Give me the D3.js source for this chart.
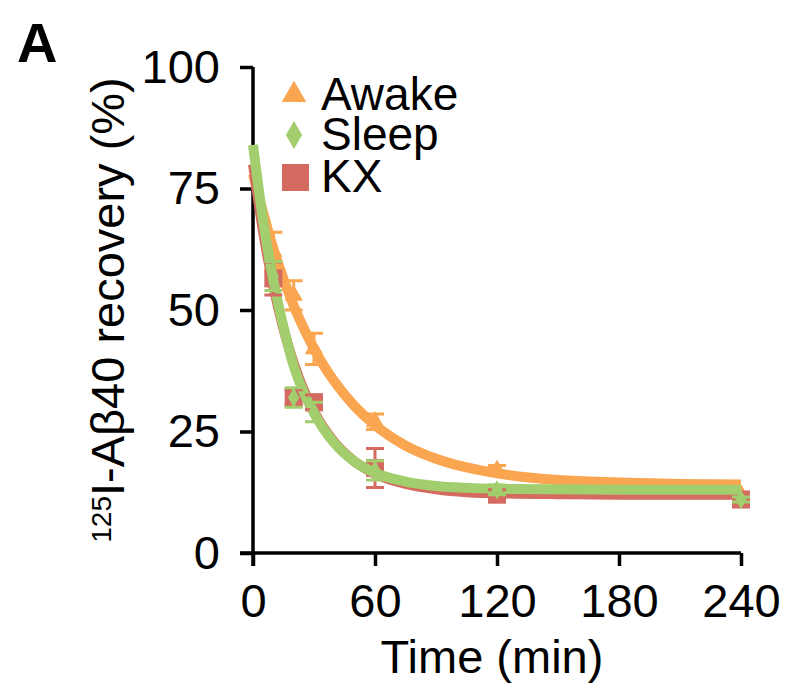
<!DOCTYPE html>
<html>
<head>
<meta charset="utf-8">
<script src="https://cdn.jsdelivr.net/npm/d3@7"></script>
<style>
  body { margin: 0; background: #fff; }
  text { font-family: "Liberation Sans", Arial, sans-serif; }
</style>
</head>
<body>
<svg id="chart" width="792" height="684"></svg>
<script>
// Data
var timePoints = [10, 20, 30, 60, 120, 240];
var awakeMean = [62, 53, 42, 27, 17, 12];
var awakeErr = [4, 3, 3.2, 1.6, 1, 0.5];
var sleepMean = [57, 32, 29, 17, 13, 11];
var sleepErr = [3, 2, 2, 2, 1, 0.5];
var kxMean = [56.5, 32, 31, 17.5, 12, 11];
var kxErr = [3.4, 1.6, 1.5, 4, 1, 0.5];

// fitted curves
var fitTime = [0, 5, 10, 15, 20, 25, 30, 40, 50, 60, 75, 90, 105, 120, 150, 180, 210, 240];
var awakeFit = [78, 70, 62.6, 56.4, 50.9, 46.2, 42, 35.3, 30.2, 26.3, 22.1, 19.4, 17.6, 16.4, 15, 14.5, 14.2, 14.1];
var sleepFit = [84, 68.3, 56.1, 46.5, 38.5, 33, 28.8, 22.6, 18.8, 16.5, 14.7, 13.8, 13.4, 13.2, 13.1, 13, 13, 13];
var kxFit = [80, 66, 54.9, 46.1, 39.1, 33.5, 29.1, 22.8, 18.8, 16.3, 14.2, 13.1, 12.5, 12.3, 12.1, 12, 12, 12];

var xTicks = [0, 60, 120, 180, 240];
var yTicks = [0, 25, 50, 75, 100];

var orange = "#faa550",
  green = "#a2ce6e",
  red = "#d46a60";

var svg = d3.select("#chart");

var x = d3.scaleLinear().domain([0, 240]).range([253, 741]);
var y = d3.scaleLinear().domain([0, 100]).range([553, 67]);

// Panel letter
svg.append("text")
  .attr("x", 17)
  .attr("y", 62)
  .attr("font-size", 56)
  .attr("font-weight", "bold")
  .text("A");

// Axes
var xAxis = svg.append("g")
  .attr("transform", "translate(0,553)")
  .call(d3.axisBottom(x).tickValues(xTicks).tickSize(13).tickSizeOuter(0).tickPadding(18));
var yAxis = svg.append("g")
  .attr("transform", "translate(253,0)")
  .call(d3.axisLeft(y).tickValues(yTicks).tickSize(13).tickSizeOuter(0).tickPadding(20));

[xAxis, yAxis].forEach(function (g) {
  g.select(".domain").attr("stroke", "#000").attr("stroke-width", 3.5);
  g.selectAll(".tick line").attr("stroke", "#000").attr("stroke-width", 3.5);
  g.selectAll(".tick text")
    .attr("font-size", 47)
    .attr("font-family", "Liberation Sans, Arial, sans-serif")
    .attr("fill", "#000");
});
// x-axis line reaches back under the y ticks
xAxis.select(".domain").attr("d", "M240,0H741");
yAxis.select(".domain").attr("d", "M0,67V566");

// Axis titles
svg.append("text")
  .attr("x", 492)
  .attr("y", 673)
  .attr("text-anchor", "middle")
  .attr("font-size", 47)
  .text("Time (min)");

var ylab = svg.append("text")
  .attr("transform", "translate(124,310) rotate(-90)")
  .attr("text-anchor", "middle")
  .attr("font-size", 47);
ylab.append("tspan").attr("font-size", 28).attr("dy", -13).text("125");
ylab.append("tspan").attr("dy", 13).text("I-A\u03b240 recovery (%)");

// Fit lines
var line = d3.line()
  .curve(d3.curveMonotoneX)
  .x(function (d) { return x(d[0]); })
  .y(function (d) { return y(d[1]); });

function fitPairs(vals) {
  return fitTime.map(function (t, i) { return [t, vals[i]]; });
}

function errorBars(means, errs, color) {
  var g = svg.append("g").attr("stroke", color).attr("stroke-width", 3).attr("fill", "none");
  timePoints.forEach(function (t, i) {
    var cx = x(t), lo = y(means[i] - errs[i]), hi = y(means[i] + errs[i]);
    g.append("path").attr("d",
      "M" + cx + "," + lo + "V" + hi +
      "M" + (cx - 9) + "," + hi + "H" + (cx + 9) +
      "M" + (cx - 9) + "," + lo + "H" + (cx + 9));
  });
}

// Awake markers + curve
errorBars(awakeMean, awakeErr, orange);
svg.append("g").selectAll("path")
  .data(timePoints)
  .enter()
  .append("path")
  .attr("d", d3.symbol().type(d3.symbolTriangle).size(150))
  .attr("transform", function (d, i) { return "translate(" + x(d) + "," + y(awakeMean[i]) + ")"; })
  .attr("fill", orange);
svg.append("path")
  .attr("d", line(fitPairs(awakeFit)))
  .attr("fill", "none")
  .attr("stroke", orange)
  .attr("stroke-width", 10);

// KX markers + curve
svg.append("g").selectAll("rect")
  .data(timePoints)
  .enter()
  .append("rect")
  .attr("x", function (d) { return x(d) - 9; })
  .attr("y", function (d, i) { return y(kxMean[i]) - 9; })
  .attr("width", 18)
  .attr("height", 18)
  .attr("fill", red);
svg.append("path")
  .attr("d", line(fitPairs(kxFit)))
  .attr("fill", "none")
  .attr("stroke", red)
  .attr("stroke-width", 10);

// Sleep curve
svg.append("path")
  .attr("d", line(fitPairs(sleepFit)))
  .attr("fill", "none")
  .attr("stroke", green)
  .attr("stroke-width", 10);

errorBars(kxMean, kxErr, red);
errorBars(sleepMean, sleepErr, green);
svg.append("g").selectAll("path")
  .data(timePoints)
  .enter()
  .append("path")
  .attr("d", d3.symbol().type(d3.symbolDiamond).size(110))
  .attr("transform", function (d, i) { return "translate(" + x(d) + "," + y(sleepMean[i]) + ")"; })
  .attr("fill", green);

// Legend
var legend = [
  { name: "Awake", color: orange, shape: "triangle", y: 95 },
  { name: "Sleep", color: green, shape: "diamond", y: 135 },
  { name: "KX", color: red, shape: "square", y: 177 }
];
var lg = svg.append("g");
legend.forEach(function (d) {
  if (d.shape === "square") {
    lg.append("rect").attr("x", 282).attr("y", d.y - 13).attr("width", 27).attr("height", 27).attr("fill", d.color);
  } else {
    var type = d.shape === "triangle" ? d3.symbolTriangle : d3.symbolDiamond;
    lg.append("path")
      .attr("d", d3.symbol().type(type).size(d.shape === "triangle" ? 260 : 230))
      .attr("transform", "translate(294," + d.y + ")")
      .attr("fill", d.color);
  }
  lg.append("text")
    .attr("x", 321)
    .attr("y", d.y + 15)
    .attr("font-size", 46)
    .text(d.name);
});
</script>
</body>
</html>
